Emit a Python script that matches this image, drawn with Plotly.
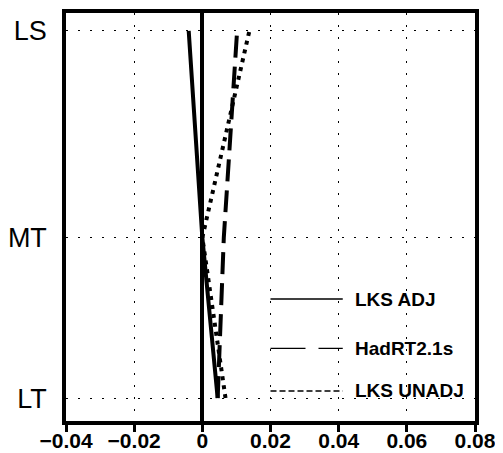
import plotly.graph_objects as go

# Levels (category labels and their vertical positions)
level_labels = ["LT", "MT", "LS"]
level_pos = [0.0, 1.0, 2.287]

# Series values at LT, MT, LS
lks_adj = [0.0045, 0.0, -0.0040]
hadrt = [0.0045, 0.0063, 0.0102]
lks_unadj = [0.0068, 0.0, 0.0138]

x_ticks = [-0.04, -0.02, 0, 0.02, 0.04, 0.06, 0.08]
x_ticktext = ["\u22120.04", "\u22120.02", "0", "0.02", "0.04", "0.06", "0.08"]

series = [
    ("LKS ADJ", lks_adj, "solid"),
    ("HadRT2.1s", hadrt, "22px,9px"),
    ("LKS UNADJ", lks_unadj, "4px,5px"),
]
legend_dash = ["solid", "35px,13px", "6px,3px"]
legend_y = [0.617, 0.31, 0.044]

fig = go.Figure()
for name, vals, dash in series:
    fig.add_trace(go.Scatter(
        x=vals, y=level_pos, mode="lines", name=name,
        line=dict(color="black", width=4, dash=dash),
        showlegend=False,
    ))

# custom legend drawn inside the plot
for (name, vals, dash), ld, ly in zip(series, legend_dash, legend_y):
    fig.add_shape(type="line", xref="x", yref="y", x0=0.02, x1=0.0412, y0=ly, y1=ly,
                  line=dict(color="black", width=1.3, dash=ld))
    fig.add_annotation(x=0.0441, y=ly, xref="x", yref="y", text="<b>" + name + "</b>",
                       showarrow=False, xanchor="left", yanchor="middle",
                       font=dict(family="Liberation Sans", size=19, color="black"))

# page body has an 8px default margin, so the figure is sized/offset to compensate
fig.update_layout(
    width=495, height=445,
    margin=dict(l=58, r=28, t=5, b=32),
    plot_bgcolor="white", paper_bgcolor="white",
    showlegend=False,
)
fig.update_xaxes(
    range=[-0.04, 0.08], tickvals=x_ticks,
    ticktext=["<b>" + t + "</b>" for t in x_ticktext],
    showgrid=True, gridcolor="black", gridwidth=1, griddash="2px,10px",
    zeroline=True, zerolinecolor="black", zerolinewidth=3.5,
    showline=True, linecolor="black", linewidth=3.5, mirror=True,
    ticks="outside", ticklen=7, tickwidth=3, tickcolor="black",
    ticklabelstandoff=-9,
    tickfont=dict(family="Liberation Sans", size=21, color="black"),
    automargin=False,
)
fig.update_yaxes(
    range=[-0.143, 2.399], tickvals=level_pos, ticktext=level_labels,
    showgrid=True, gridcolor="black", gridwidth=1, griddash="2px,10px",
    zeroline=False,
    showline=True, linecolor="black", linewidth=3.5, mirror=True,
    ticks="outside", ticklen=10, tickcolor="rgba(0,0,0,0)",
    tickfont=dict(family="Liberation Sans", size=27, color="black"),
    automargin=False,
)

fig.write_html("out.html")
